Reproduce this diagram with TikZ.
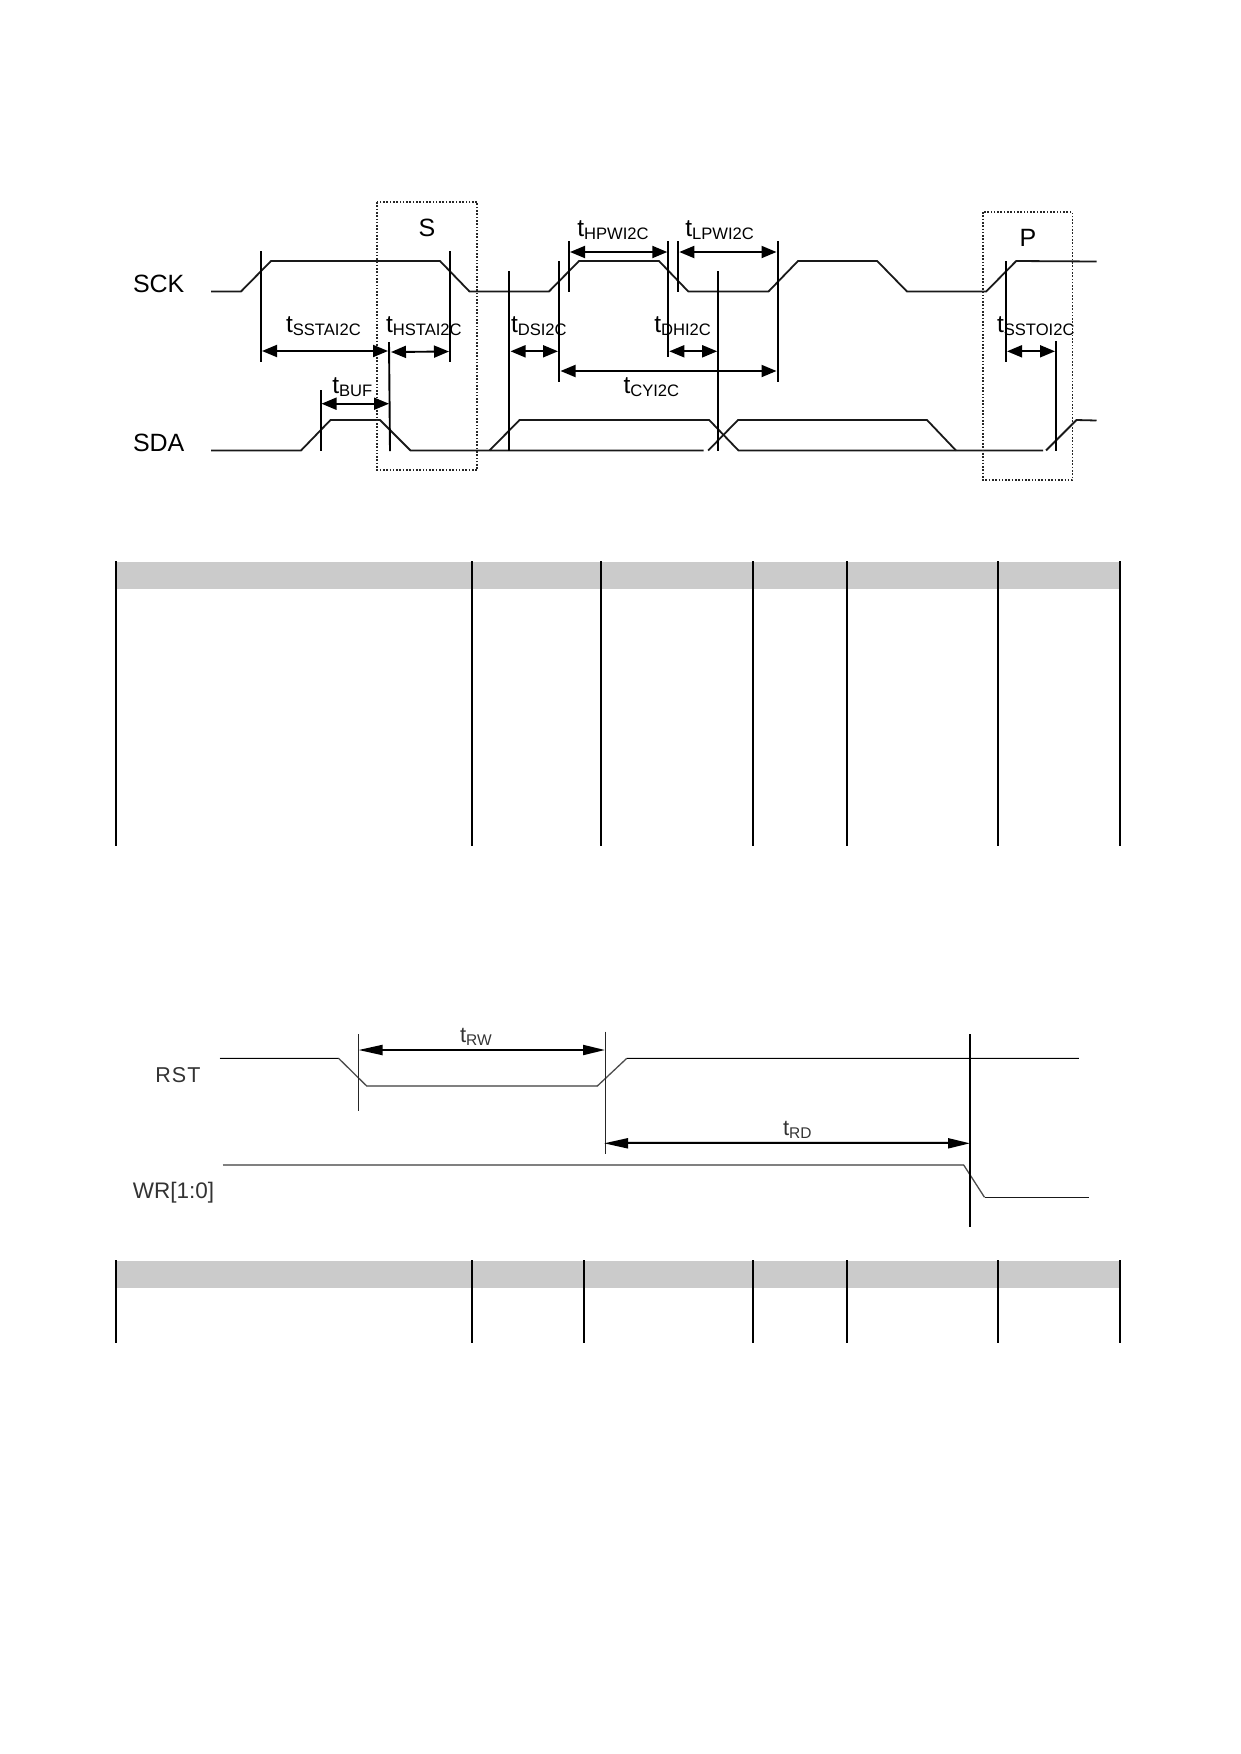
\documentclass[tikz,border=0pt]{standalone}
\usepackage{fontspec}
\setmainfont{Liberation Sans}
\usetikzlibrary{arrows.meta}
\newcommand{\tlab}[1]{{\fontsize{24.5}{24}\selectfont t}\raisebox{-3pt}{\fontsize{16.6}{16}\selectfont #1}}
\newcommand{\tlabs}[1]{{\fontsize{22}{22}\selectfont t}\raisebox{-3.5pt}{\fontsize{15.5}{15}\selectfont #1}}
\tikzset{
  wave/.style={line width=1.8pt,black!90,line join=round},
  tick/.style={line width=1.9pt,black},
  thintick/.style={line width=1.1pt,black!85},
  tblline/.style={line width=2pt,black},
  hdr/.style={fill=hdrgray,draw=none},
  dim/.style={line width=1.9pt,black,{Triangle[length=15pt,width=12pt]}-{Triangle[length=15pt,width=12pt]}},
  dimlong/.style={line width=2pt,black,{Triangle[length=24pt,width=10pt]}-{Triangle[length=22pt,width=10pt]}},
  dotbox/.style={line width=1.8pt,black!85,dash pattern=on 1.6pt off 1.7pt},
  lab/.style={anchor=base west,inner sep=0pt,outer sep=0pt,font=\fontsize{25}{25}\selectfont},
  labc/.style={lab,anchor=base},
  slab/.style={anchor=base west,inner sep=0pt,outer sep=0pt,text=black!80,font=\fontsize{21.5}{22}\selectfont}
}
\definecolor{hdrgray}{HTML}{CBCBCB}
\begin{document}
\begin{tikzpicture}[x=1pt,y=-1pt]
\useasboundingbox (0,0) rectangle (1240,1754);
% table 1
\fill[hdr] (116,562) rectangle (1119.5,589);
\foreach \x in {116,472,601,753,847,997.5,1119.5}
  \draw[tblline] (\x,561) -- (\x,846);
% table 2
\fill[hdr] (116,1261) rectangle (1119.5,1288);
\foreach \x in {116,472,584,753,847,997.5,1119.5}
  \draw[tblline] (\x,1260) -- (\x,1343);
% SCK
\draw[wave] (211,291.5) -- (241,291.5) -- (271,261) -- (440,261) -- (469.5,291.5) -- (549,291.5) -- (579,261) -- (659,261) -- (688.3,291.5) -- (768.5,291.5) -- (798,261) -- (877.2,261) -- (907,291.5) -- (986.2,291.5) -- (1016.2,261) -- (1096.5,261.5);
% SDA
\draw[wave] (211,450.5) -- (301,450.5) -- (330.5,420) -- (380,420) -- (410.5,450.5) -- (703.6,450.5);
\draw[wave] (489.5,450.5) -- (519.5,420) -- (709.2,420) -- (738.5,450.5) -- (1043.2,450.5);
\draw[wave] (708.2,450.5) -- (738,420) -- (927,420) -- (956,450.5);
\draw[wave] (1046,450.5) -- (1076.5,420) -- (1096.5,420.5);
% ticks
\draw[tick] (261.3,251) -- (261.3,362);
\draw[tick] (450,251) -- (450,362);
\draw[tick] (389,342) -- (390,451);
\draw[tick] (320.7,390) -- (320.7,451);
\draw[tick] (509.3,271) -- (509.3,451);
\draw[tick] (559.3,261) -- (559.3,382);
\draw[tick] (569,241) -- (569,292);
\draw[tick] (668.3,241) -- (668.3,357);
\draw[tick] (678.3,241) -- (678.3,292);
\draw[tick] (777.6,241) -- (777.6,382);
\draw[tick] (718.3,271) -- (718.3,451);
\draw[tick] (1005.9,261) -- (1005.9,362);
\draw[tick] (1055.9,341) -- (1055.9,451);
% dotted boxes
\draw[dotbox] (377.3,202) rectangle (477.3,470.3);
\draw[dotbox] (982.7,212) rectangle (1072.5,480);
% dimension arrows
\coordinate (a1) at (262,351); \coordinate (a2) at (388,351);
\draw[dim] (a1) -- (a2);
\coordinate (b1) at (391,352); \coordinate (b2) at (449,351.5);
\draw[dim] (b1) -- (b2);
\coordinate (c1) at (321.5,403.7); \coordinate (c2) at (389,403.7);
\draw[dim] (c1) -- (c2);
\coordinate (d1) at (510.5,351.3); \coordinate (d2) at (558,351.3);
\draw[dim] (d1) -- (d2);
\coordinate (e1) at (570,252); \coordinate (e2) at (667.3,252);
\draw[dim] (e1) -- (e2);
\coordinate (f1) at (679.3,252); \coordinate (f2) at (776.5,252);
\draw[dim] (f1) -- (f2);
\coordinate (g1) at (669.3,351.3); \coordinate (g2) at (717.2,351.3);
\draw[dim] (g1) -- (g2);
\coordinate (h1) at (560.5,371); \coordinate (h2) at (776.5,371);
\draw[dim] (h1) -- (h2);
\coordinate (i1) at (1007,351.3); \coordinate (i2) at (1055,351.3);
\draw[dim] (i1) -- (i2);
% labels
\node[lab] (sck) at (133,292.7) {SCK};
\node[lab] (sda) at (133,451) {SDA};
\node[labc] (sl) at (427,236.7) {S};
\node[labc] (pl) at (1028,246) {P};
\node[lab] (t1) at (286,332.7) {\tlab{SSTAI2C}};
\node[lab] (t2) at (386,332.7) {\tlab{HSTAI2C}};
\node[lab] (t3) at (511,332.7) {\tlab{DSI2C}};
\node[lab] (t4) at (332.3,393) {\tlab{BUF}};
\node[lab] (t5) at (577.3,236) {\tlab{HPWI2C}};
\node[lab] (t6) at (685.3,236) {\tlab{LPWI2C}};
\node[lab] (t7) at (654.3,332.7) {\tlab{DHI2C}};
\node[lab] (t8) at (623.5,393) {\tlab{CYI2C}};
\node[lab] (t9) at (997,332.7) {\tlab{SSTOI2C}};
% lower timing
\draw[line width=1pt,black!12] (219.6,1057) -- (338.6,1057);
\draw[line width=1pt,black!12] (626.8,1057) -- (1079.4,1057);
\draw[line width=1.2pt,black] (219.6,1058.3) -- (338.6,1058.3);
\draw[line width=1.3pt,black!70] (338.6,1058.3) -- (367,1086.3);
\draw[line width=2pt,black!50] (367,1086.3) -- (597,1086.3);
\draw[line width=1.3pt,black!70] (597,1086.3) -- (626.8,1058.3);
\draw[line width=1.2pt,black] (626.8,1058.3) -- (1079.4,1058.3);
\draw[line width=2pt,black!50] (222.5,1165) -- (963.7,1165);
\draw[line width=1.3pt,black!70] (963.7,1165) -- (984.5,1197.3);
\draw[line width=1.2pt,black!90] (984.5,1197.3) -- (1088.6,1197.3);
\draw[thintick] (358.2,1034) -- (358.2,1110.7);
\draw[thintick] (605.4,1031.7) -- (605.4,1154.3);
\draw[line width=1.9pt,black] (970.3,1034) -- (970.3,1226.7);
\coordinate (j1) at (358.5,1050); \coordinate (j2) at (605,1050);
\draw[dimlong] (j1) -- (j2);
\coordinate (k1) at (604,1143.3); \coordinate (k2) at (970,1143.3);
\draw[line width=1pt,black!15] (625,1141.3) -- (950,1141.3);
\draw[dimlong] (k1) -- (k2);
\node[slab] (rst) at (155.4,1082.7) {R\kern1pt S\kern1pt T};
\node[slab,font=\fontsize{22.5}{22}\selectfont] (wr) at (132.9,1198) {WR[1:0]};
\node[lab,text=black!80] (trw) at (460,1042) {\tlabs{RW}};
\node[lab,text=black!80] (trd) at (783,1135) {\tlabs{RD}};
\end{tikzpicture}
\end{document}
